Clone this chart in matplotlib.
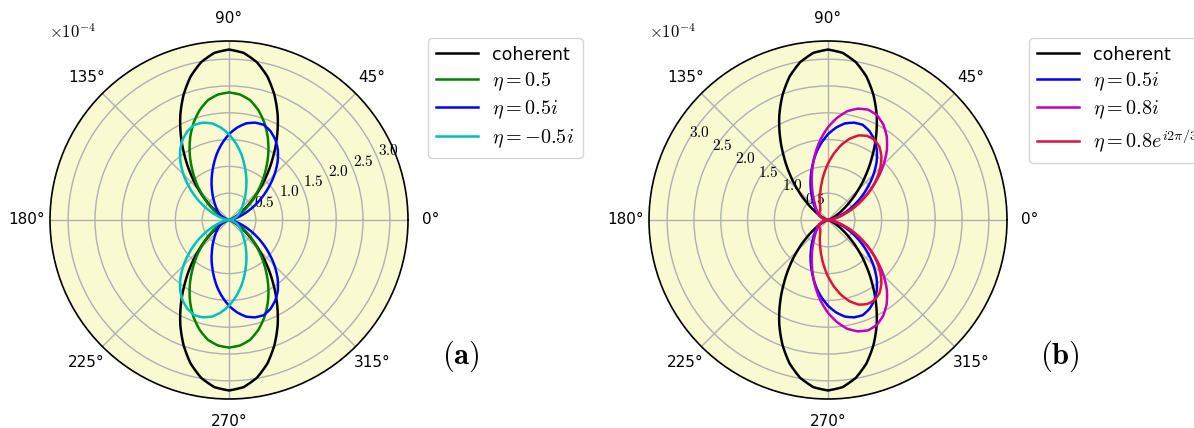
import numpy as np
import matplotlib
matplotlib.use("Agg")
import matplotlib.pyplot as plt
from matplotlib.ticker import FuncFormatter

plt.rcParams['mathtext.fontset'] = 'cm'
plt.rcParams['font.family'] = ['DejaVu Sans']

# angles of the upper half (degrees); lower half is the mirror image
theta_half = np.arange(0, 181, 5)

# radial values (units of 1e-4), read at 0,5,...,180 degrees
r_coherent = [0, 0.0, 0.003, 0.014, 0.044, 0.10, 0.20, 0.34, 0.54, 0.80, 1.10, 1.43,
              1.79, 2.15, 2.48, 2.77, 2.99, 3.13, 3.18, 3.13, 2.99, 2.77, 2.48, 2.15,
              1.79, 1.43, 1.10, 0.80, 0.54, 0.34, 0.20, 0.10, 0.044, 0.014, 0.003, 0.0, 0]
r_eta05 = [0, 0.005, 0.02, 0.05, 0.10, 0.17, 0.27, 0.40, 0.57, 0.76, 0.98, 1.22,
           1.47, 1.71, 1.93, 2.12, 2.27, 2.35, 2.38, 2.35, 2.27, 2.12, 1.93, 1.71,
           1.47, 1.22, 0.98, 0.76, 0.57, 0.40, 0.27, 0.17, 0.10, 0.05, 0.02, 0.005, 0]
r_eta05i = [0, 0.01, 0.05, 0.13, 0.24, 0.39, 0.57, 0.77, 0.98, 1.20, 1.41, 1.59,
            1.73, 1.83, 1.89, 1.88, 1.83, 1.73, 1.60, 1.44, 1.27, 1.09, 0.92, 0.77,
            0.63, 0.52, 0.42, 0.35, 0.29, 0.24, 0.20, 0.16, 0.11, 0.07, 0.04, 0.01, 0]
r_eta_m05i = r_eta05i[::-1]
r_eta08i = [0, 0.016, 0.07, 0.16, 0.30, 0.48, 0.70, 0.95, 1.21, 1.47, 1.71, 1.91,
            2.06, 2.16, 2.19, 2.15, 2.06, 1.91, 1.73, 1.52, 1.30, 1.08, 0.88, 0.71,
            0.57, 0.46, 0.38, 0.32, 0.28, 0.24, 0.21, 0.17, 0.13, 0.085, 0.044, 0.013, 0]
r_eta08e = [0, 0.02, 0.08, 0.19, 0.33, 0.52, 0.73, 0.96, 1.18, 1.38, 1.55, 1.67,
            1.73, 1.73, 1.68, 1.57, 1.42, 1.24, 1.05, 0.86, 0.69, 0.55, 0.44, 0.36,
            0.29, 0.25, 0.225, 0.215, 0.21, 0.20, 0.18, 0.15, 0.11, 0.07, 0.035, 0.01, 0]

labels_a = ['coherent', r'$\eta=0.5$', r'$\eta=0.5i$', r'$\eta=-0.5i$']
labels_b = ['coherent', r'$\eta=0.5i$', r'$\eta=0.8i$', r'$\eta=0.8e^{i2\pi/3}$']
colors_a = ['black', 'green', 'blue', 'c']
colors_b = ['black', 'blue', 'm', 'crimson']
rticks = [0.5, 1.0, 1.5, 2.0, 2.5, 3.0]


def full(r):
    r = np.asarray(r, dtype=float)
    th = np.concatenate([theta_half, 360 - theta_half[::-1][1:]])
    rr = np.concatenate([r, r[::-1][1:]])
    return np.deg2rad(th), rr


W, H = 1194, 428
fig = plt.figure(figsize=(W / 100, H / 100), dpi=100)
ax1 = fig.add_axes([50 / W, 29 / H, 358 / W, 358 / H], projection='polar')
ax2 = fig.add_axes([649 / W, 29 / H, 358 / W, 358 / H], projection='polar')

series_a = [r_coherent, r_eta05, r_eta05i, r_eta_m05i]
series_b = [r_coherent, r_eta05i, r_eta08i, r_eta08e]

for ax, series, labels, colors, rlpos, lx, ox, px, tag in [
        (ax1, series_a, labels_a, colors_a, 22.5, 428, 49, 461, '(a)'),
        (ax2, series_b, labels_b, colors_b, 150, 1029, 649, 1060, '(b)')]:
    ax.set_facecolor('#FAFAD2')
    rmax = 0
    for r, lab, col in zip(series, labels, colors):
        th, rr = full(r)
        line, = ax.plot(th, rr, color=col, lw=1.8, label=lab)
        line.get_path()._interpolation_steps = 12
        rmax = max(rmax, rr.max())
    ax.set_rlim(0, rmax * 1.05)
    ax.set_rticks(rticks)
    ax.yaxis.set_major_formatter(FuncFormatter(lambda v, p: f'${v:.1f}$'))
    ax.set_rlabel_position(rlpos)
    ax.tick_params(axis='y', labelsize=11)
    ax.tick_params(axis='x', labelsize=11, pad=6)
    ax.grid(True, color='#b0b0b0', lw=1.0)
    ax.spines['polar'].set_linewidth(1.2)
    leg = ax.legend(loc='upper left', bbox_to_anchor=(lx / W, 1 - 38 / H),
                    bbox_transform=fig.transFigure, borderaxespad=0, fontsize=14.5,
                    handlelength=2.1, labelspacing=0.3, handletextpad=0.7)
    leg.get_texts()[0].set_fontsize(12.5)
    fig.text(ox / W, 1 - 33 / H, r'$\times10^{-4}$', fontsize=12, va='center', ha='left')
    fig.text(px / W, 1 - 356 / H, r'$\mathbf{' + tag + '}$', fontsize=22,
             ha='center', va='center')

fig.savefig('out.png', dpi=100)
